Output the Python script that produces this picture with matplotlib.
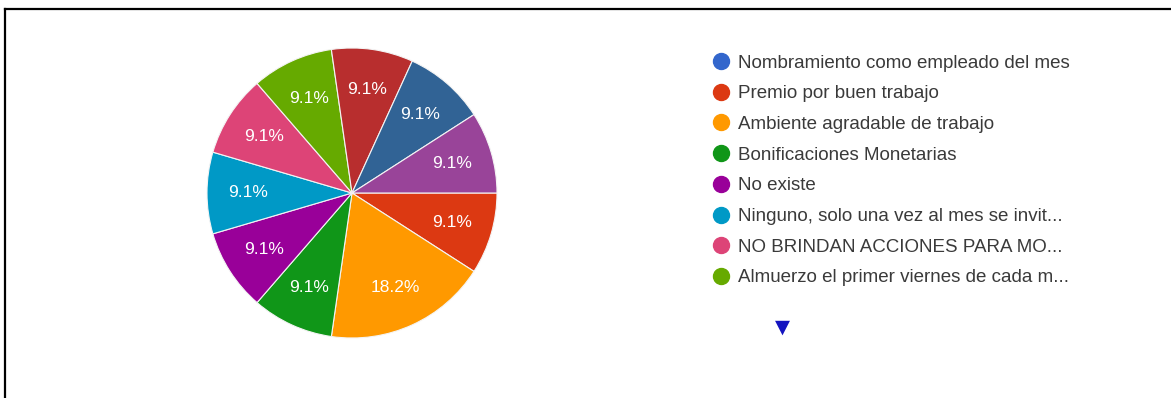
import matplotlib.pyplot as plt
from matplotlib.lines import Line2D

# respuestas por opción (11 respuestas en total)
opciones = [
    "Nombramiento como empleado del mes",
    "Premio por buen trabajo",
    "Ambiente agradable de trabajo",
    "Bonificaciones Monetarias",
    "No existe",
    "Ninguno, solo una vez al mes se invit...",
    "NO BRINDAN ACCIONES PARA MO...",
    "Almuerzo el primer viernes de cada m...",
    "Opción 9",
    "Opción 10",
    "Opción 11",
]
respuestas = [0, 1, 2, 1, 1, 1, 1, 1, 1, 1, 1]
colores = ["#3366cc", "#dc3912", "#ff9900", "#109618", "#990099", "#0099c6",
           "#dd4477", "#66aa00", "#b82e2e", "#316395", "#994499"]
visibles = 8  # entradas de la primera página de la leyenda

W, H = 1171, 398
fig = plt.figure(figsize=(W / 100, H / 100), dpi=100)
fig.patch.set_facecolor("white")

# marco negro arriba e izquierda
fig.add_artist(Line2D([5.5 / W, 5.5 / W], [0, 1 - 8.5 / H], color="black",
                      lw=1.6, transform=fig.transFigure))
fig.add_artist(Line2D([5.5 / W, 1], [1 - 8.5 / H, 1 - 8.5 / H], color="black",
                      lw=1.6, transform=fig.transFigure))

cx, cy, r = 352, 193, 145
ax = fig.add_axes([(cx - r) / W, 1 - (cy + r) / H, 2 * r / W, 2 * r / H])

vals = [v for v in respuestas if v > 0]
cols = [c for v, c in zip(respuestas, colores) if v > 0]

wedges, textos, auto = ax.pie(
    vals, colors=cols, startangle=0, counterclock=False,
    autopct=lambda p: f"{p:.1f}%", pctdistance=0.72,
    wedgeprops=dict(edgecolor="#f4f4f4", linewidth=0.8),
    textprops=dict(color="white", fontsize=12.5, family="Liberation Sans"),
)
ax.set_xlim(-1, 1)
ax.set_ylim(-1, 1)
ax.set_aspect("equal")

# leyenda (primera página)
x0, y0, paso = 721, 61, 30.7
for i in range(visibles):
    y = 1 - (y0 + i * paso) / H
    fig.add_artist(Line2D([x0 / W], [y], marker="o", markersize=11.5,
                          color=colores[i], transform=fig.transFigure))
    fig.text((x0 + 17) / W, y, opciones[i], color="#3a3a3a", fontsize=13.5,
             ha="left", va="center_baseline", family="Liberation Sans")

# flecha de paginación
fig.text(782 / W, 1 - 327 / H, "\u25bc", color="#1414c0", fontsize=14,
         ha="center", va="center", family="DejaVu Sans")

fig.savefig("out.png", dpi=100, facecolor="white")
